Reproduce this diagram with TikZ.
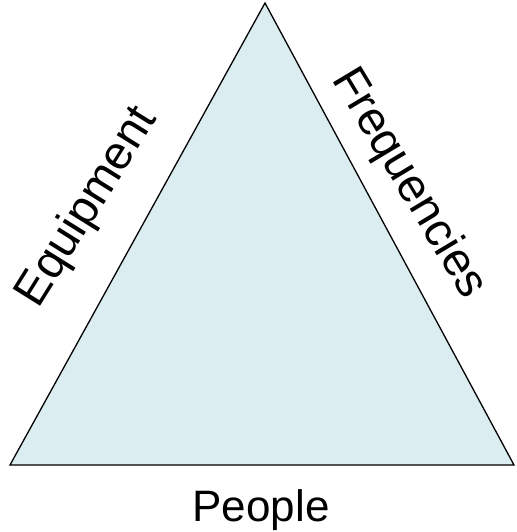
\documentclass[tikz,border=0pt]{standalone}
\usepackage{fontspec}
\setmainfont{Liberation Sans}
\definecolor{trifill}{HTML}{DBEDF1}
\tikzset{lbl/.style={font=\fontsize{44}{48}\selectfont, inner sep=0pt},
  rlbl/.style={font=\fontsize{47}{50}\selectfont, inner sep=0pt}}
\begin{document}
\begin{tikzpicture}[x=1pt,y=-1pt]
\useasboundingbox (0,0) rectangle (516,532);
\coordinate (A) at (265,3);
\coordinate (B) at (10,465);
\coordinate (C) at (514,465);
\draw[fill=trifill, line width=1.3pt, line join=miter] (A) -- (B) -- (C) -- cycle;
\node[rlbl, anchor=base, rotate=58] (eq) at (98,214) {Equipment};
\node[rlbl, anchor=base, rotate=-59] (fr) at (398,190) {Frequencies};
\node[lbl, anchor=base] (pe) at (261,521) {People};
\end{tikzpicture}
\end{document}
